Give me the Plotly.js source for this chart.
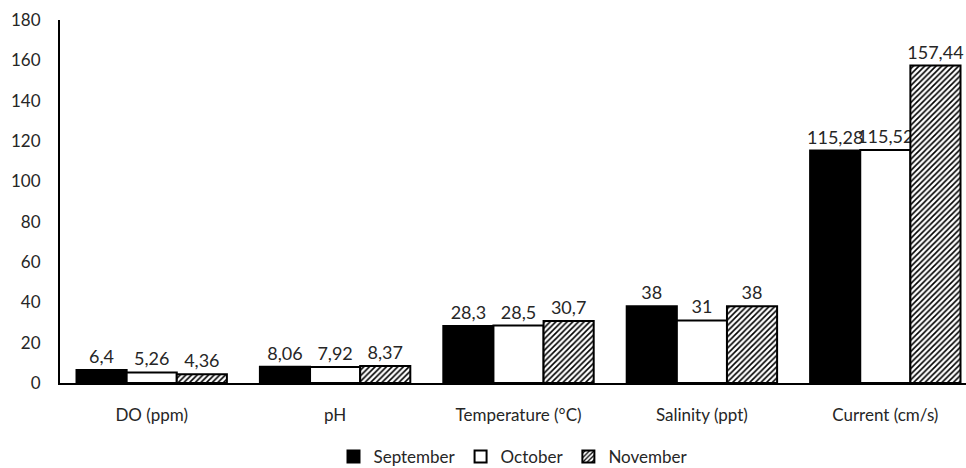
<!DOCTYPE html>
<html>
<head>
<meta charset="utf-8">
<script src="https://cdn.plot.ly/plotly-3.0.1.min.js"></script>
<style>html,body{margin:0;padding:0;background:#fff;}#chart{width:966px;height:468px;}</style>
</head>
<body>
<div id="chart"></div>
<script>
const categories = ["DO (ppm)", "pH", "Temperature (°C)", "Salinity (ppt)", "Current (cm/s)"];
const september = [6.4, 8.06, 28.3, 38, 115.28];
const october = [5.26, 7.92, 28.5, 31, 115.52];
const november = [4.36, 8.37, 30.7, 38, 157.44];
const seriesNames = ["September", "October", "November"];
const yTicks = [0, 20, 40, 60, 80, 100, 120, 140, 160, 180];

const fmt = v => String(v).replace('.', ',');
const fontFam = "Lato, 'Open Sans', sans-serif";
const textCol = "#262626";

function mk(name, vals, color, pattern) {
  const m = {color: color, line: {color: '#000', width: 2}};
  if (pattern) m.pattern = pattern;
  return {
    type: 'bar', name: name, x: categories, y: vals,
    text: vals.map(fmt), textposition: 'outside', cliponaxis: false,
    constraintext: 'none',
    textfont: {family: fontFam, size: 18, color: textCol},
    marker: m, hoverinfo: 'x+y'
  };
}

const data = [
  mk(seriesNames[0], september, '#000000'),
  mk(seriesNames[1], october, '#ffffff'),
  mk(seriesNames[2], november, '#ffffff', {shape: '/', fgcolor: '#000', bgcolor: '#fff', size: 4, solidity: 0.4})
];

const layout = {
  width: 966, height: 468,
  margin: {l: 60, r: 0, t: 20, b: 85, autoexpand: false},
  paper_bgcolor: '#fff', plot_bgcolor: '#fff',
  barmode: 'group', bargap: 0.18, bargroupgap: 0,
  font: {family: fontFam, size: 17, color: textCol},
  showlegend: true,
  legend: {orientation: 'h', x: 0.5, xanchor: 'center', y: -0.154, yanchor: 'top',
    font: {family: fontFam, size: 17, color: textCol}, itemwidth: 30, tracegroupgap: 0},
  xaxis: {type: 'category', range: [-0.5, 4.44], showline: true, linecolor: '#000', linewidth: 2,
    ticks: '', showgrid: false, zeroline: false, ticklabelstandoff: 16,
    tickfont: {family: fontFam, size: 17, color: textCol}, fixedrange: true},
  yaxis: {range: [0, 180], tickvals: yTicks, ticktext: yTicks.map(String), showline: true,
    linecolor: '#000', linewidth: 2, ticks: '', showgrid: false, zeroline: false,
    ticklabelstandoff: 14, tickfont: {family: fontFam, size: 17, color: textCol}, fixedrange: true}
};

Plotly.newPlot('chart', data, layout, {displayModeBar: false, staticPlot: true});
</script>
</body>
</html>
